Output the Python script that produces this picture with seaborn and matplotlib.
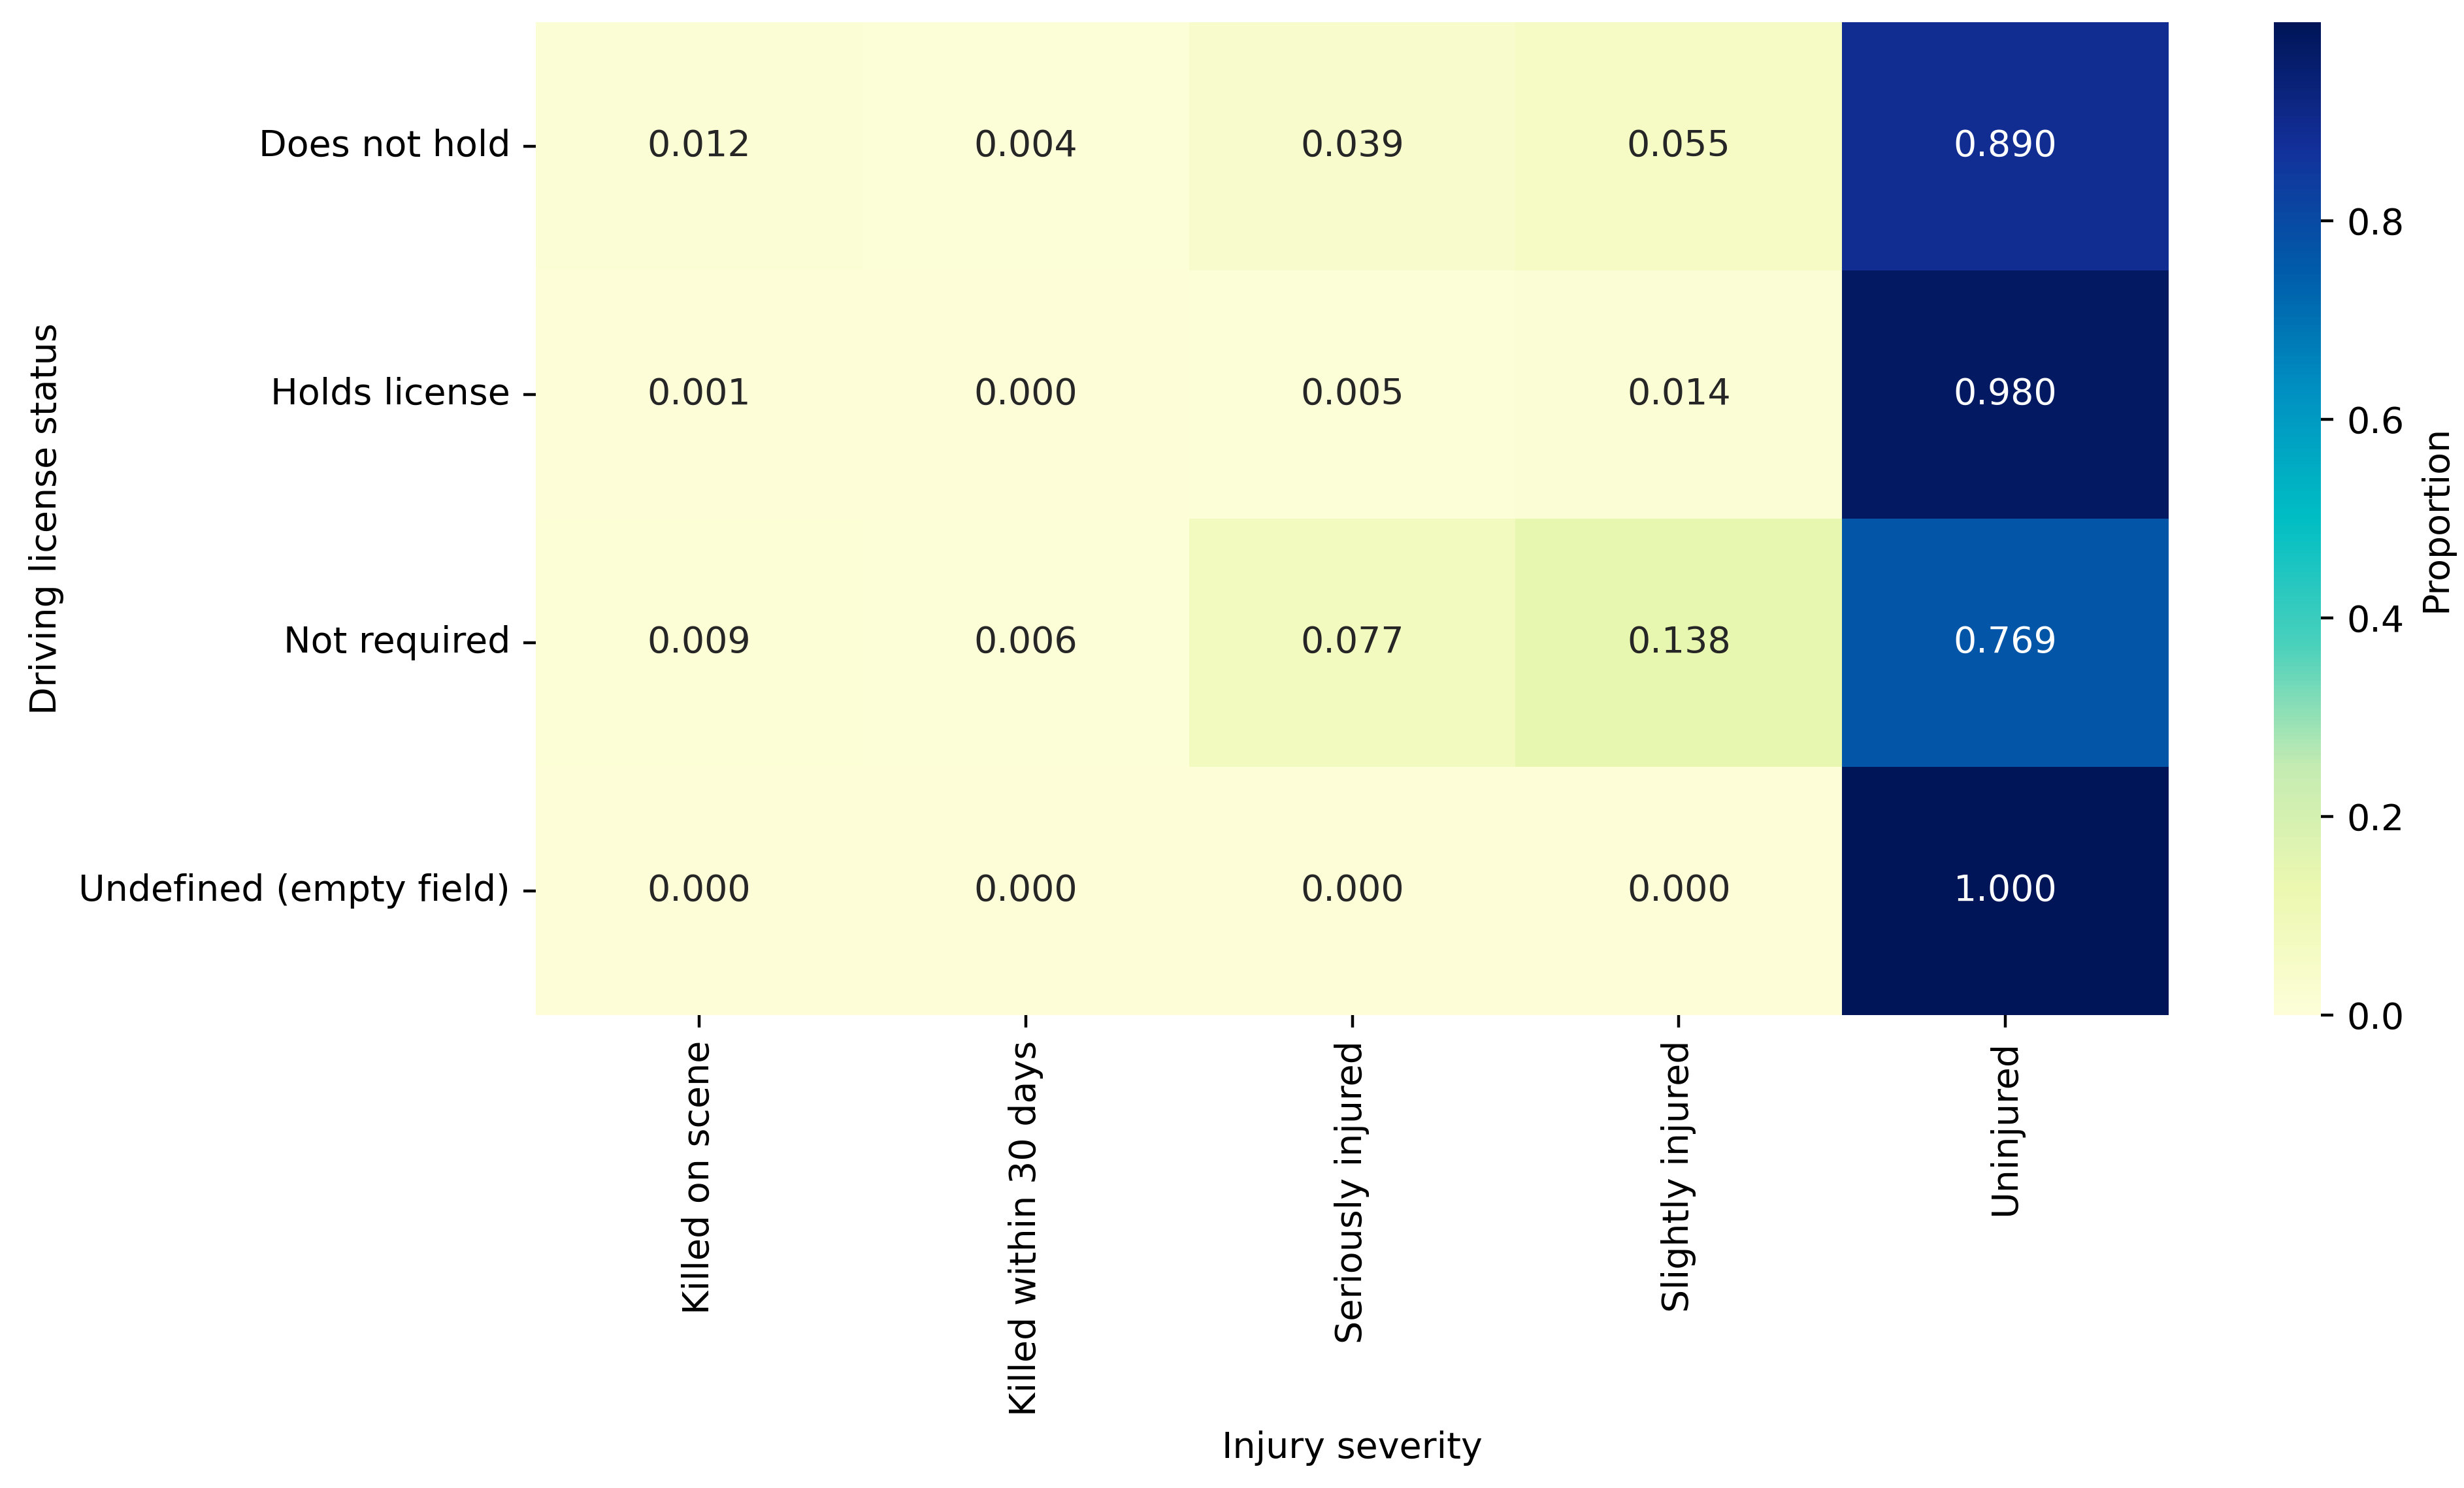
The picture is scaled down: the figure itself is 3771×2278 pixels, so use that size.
import numpy as np
import pandas as pd
import matplotlib
matplotlib.use("Agg")
import matplotlib.pyplot as plt
from matplotlib.colors import LinearSegmentedColormap
import seaborn as sns

# Proportions of injury severity per driving license status (rows sum to ~1)
license_status = ["Does not hold", "Holds license", "Not required", "Undefined (empty field)"]
severity = ["Killed on scene", "Killed within 30 days", "Seriously injured",
            "Slightly injured", "Uninjured"]

does_not_hold = [0.012, 0.004, 0.039, 0.055, 0.890]
holds_license = [0.001, 0.0002, 0.005, 0.014, 0.980]
not_required = [0.009, 0.006, 0.077, 0.138, 0.769]
undefined = [0.0001, 0.0001, 0.0001, 0.0001, 0.9996]

props = pd.DataFrame(
    [does_not_hold, holds_license, not_required, undefined],
    index=license_status, columns=severity,
)

# YlGnBu as it shows up in the reference (a bit more saturated)
ylgnbu_vivid = LinearSegmentedColormap.from_list(
    "ylgnbu_vivid",
    [(0.0, "#fdfed8"), (0.125, "#ecf8b0"), (0.25, "#c4ebb2"), (0.375, "#48d0bc"),
     (0.5, "#00bec4"), (0.625, "#0092c2"), (0.75, "#005caa"), (0.875, "#13309a"),
     (1.0, "#001558")],
)

W, H, DPI = 3771, 2278, 400
fig = plt.figure(figsize=(W / DPI, H / DPI), dpi=DPI)

# axes placed to match the cropped reference layout
ax = fig.add_axes([820 / W, 1 - 1554 / H, 2499 / W, 1520 / H])
cax = fig.add_axes([3480 / W, 1 - 1554 / H, 72 / W, 1520 / H])

sns.heatmap(
    props,
    annot=True,
    fmt=".3f",
    cmap=ylgnbu_vivid,
    vmin=0,
    ax=ax,
    cbar_ax=cax,
    cbar_kws={"label": "Proportion"},
    annot_kws={"fontsize": 10},
)

ax.set_xlabel("Injury severity", fontsize=10)
ax.set_ylabel("Driving license status", fontsize=10)
ax.tick_params(axis="x", labelrotation=90, labelsize=10)
ax.tick_params(axis="y", labelrotation=0, labelsize=10)
cax.tick_params(labelsize=10)
cax.yaxis.label.set_size(10)

fig.savefig("out.png", dpi=DPI)
